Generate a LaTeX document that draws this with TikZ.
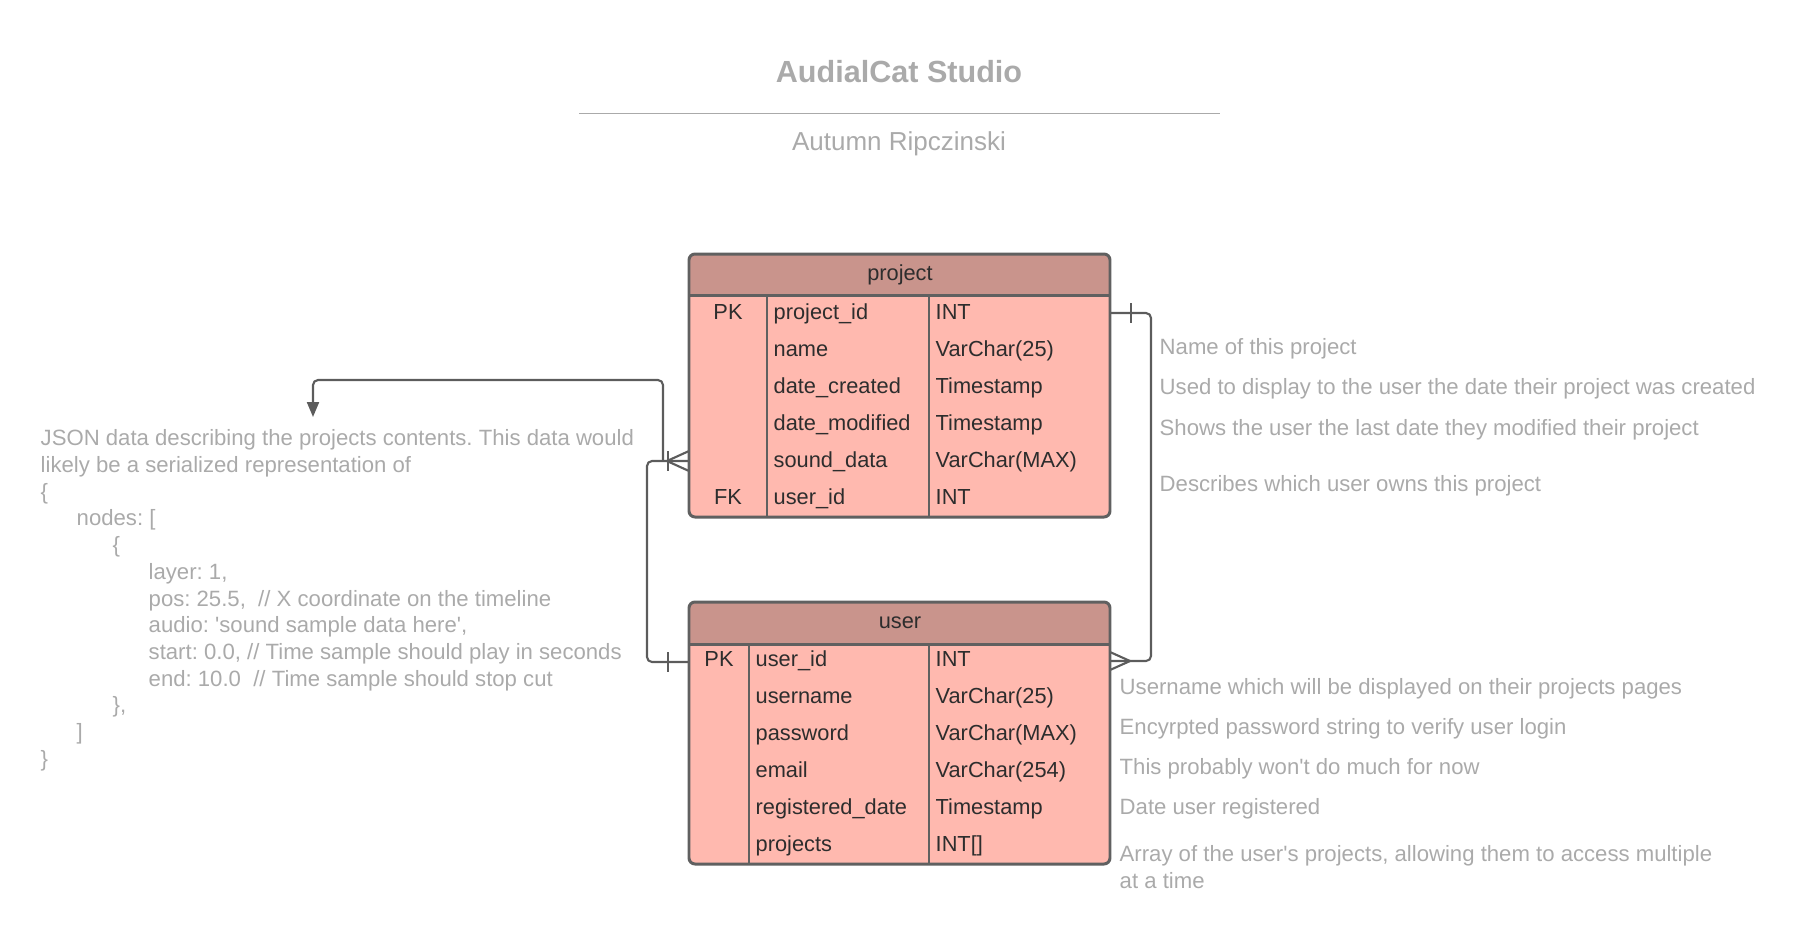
\documentclass[tikz,border=0pt]{standalone}
\usepackage{fontspec}
\setmainfont{Liberation Sans}
\frenchspacing
\usetikzlibrary{arrows.meta}

\definecolor{headfill}{RGB}{201,148,140}
\definecolor{rowfill}{RGB}{255,185,175}
\definecolor{framegray}{RGB}{96,96,96}
\definecolor{linkgray}{RGB}{92,92,92}
\definecolor{cellgray}{RGB}{45,45,45}
\definecolor{notegray}{RGB}{170,170,170}

\begin{document}
\begin{tikzpicture}[
    cell/.style={text=cellgray, font=\fontsize{6.2}{7.4}\selectfont, inner sep=0pt, anchor=base west},
    note/.style={text=notegray, font=\fontsize{6.3}{7.6}\selectfont, inner sep=0pt, anchor=base west},
    frame/.style={draw=framegray, line width=0.85pt},
    link/.style={draw=linkgray, line width=0.6pt, rounded corners=0.05cm},
    erend/.style={draw=linkgray, line width=0.6pt}
  ]
    \useasboundingbox (0,0) rectangle (18,-9.4);

    % title block
    \node[text=notegray, font=\bfseries\fontsize{8.7}{10}\selectfont, inner sep=0pt, anchor=base] (title) at (8.99,-0.82) {AudialCat Studio};
    \draw[notegray, line width=0.55pt] (5.79,-1.135) -- (12.20,-1.135);
    \node[text=notegray, font=\fontsize{7.4}{9}\selectfont, inner sep=0pt, anchor=base] (author) at (8.99,-1.50) {Autumn Ripczinski};

    % connector ends
    \coordinate (pid-e) at (11.10,-3.13);
    \coordinate (psd-w) at (6.89,-4.61);
    \coordinate (uid-w) at (6.89,-6.62);
    \coordinate (uid-e) at (11.10,-6.61);
    \coordinate (json-in) at (3.13,-4.17);

    % project -> user
    \draw[link] (pid-e) -- ++(0.41,0) |- (uid-e);
    \draw[erend] ([shift={(0.21,0.10)}]pid-e) -- ([shift={(0.21,-0.10)}]pid-e);
    \draw[erend] ([yshift=0.09cm]uid-e) -- ([xshift=0.20cm]uid-e) -- ([yshift=-0.09cm]uid-e);

    % user -> project
    \draw[link] (psd-w) -- ++(-0.42,0) |- (uid-w);
    \draw[erend] ([shift={(-0.21,0.10)}]psd-w) -- ([shift={(-0.21,-0.10)}]psd-w);
    \draw[erend] ([yshift=0.10cm]psd-w) -- ([xshift=-0.22cm]psd-w) -- ([yshift=-0.10cm]psd-w);
    \draw[erend] ([shift={(-0.21,0.10)}]uid-w) -- ([shift={(-0.21,-0.10)}]uid-w);

    % sound_data -> json note
    \draw[link, -{Triangle[length=0.15cm, width=0.12cm]}] ([xshift=-0.26cm]psd-w) -- ++(0,0.81) -| (json-in);

    % project table
    \fill[rowfill, rounded corners=0.06cm] (6.89,-2.54) rectangle (11.10,-5.17);
    \begin{scope}
      \clip[rounded corners=0.06cm] (6.89,-2.54) rectangle (11.10,-5.17);
      \fill[headfill] (6.89,-2.54) rectangle (11.10,-2.95);
    \end{scope}
    \draw[frame, rounded corners=0.06cm] (6.89,-2.54) rectangle (11.10,-5.17);
    \draw[frame] (6.89,-2.95) -- (11.10,-2.95) (7.67,-2.95) -- (7.67,-5.17) (9.29,-2.95) -- (9.29,-5.17);
    \node[cell, anchor=base] (project) at (9.00,-2.80) {project};
    \foreach \k/\f/\t [count=\i] in {PK/project\_id/INT, {}/name/VarChar(25), {}/date\_created/Timestamp,
        {}/date\_modified/Timestamp, {}/sound\_data/VarChar(MAX), FK/user\_id/INT} {
      \node[cell, anchor=base] (pk-\i) at (7.28,{-3.19-0.37*(\i-1)}) {\k};
      \node[cell] (pf-\i) at (7.73,{-3.19-0.37*(\i-1)}) {\f};
      \node[cell] (pt-\i) at (9.35,{-3.19-0.37*(\i-1)}) {\t};
    }

    % user table
    \fill[rowfill, rounded corners=0.06cm] (6.89,-6.02) rectangle (11.10,-8.64);
    \begin{scope}
      \clip[rounded corners=0.06cm] (6.89,-6.02) rectangle (11.10,-8.64);
      \fill[headfill] (6.89,-6.02) rectangle (11.10,-6.44);
    \end{scope}
    \draw[frame, rounded corners=0.06cm] (6.89,-6.02) rectangle (11.10,-8.64);
    \draw[frame] (6.89,-6.44) -- (11.10,-6.44) (7.49,-6.44) -- (7.49,-8.64) (9.29,-6.44) -- (9.29,-8.64);
    \node[cell, anchor=base] (user) at (9.00,-6.28) {user};
    \foreach \k/\f/\t [count=\i] in {PK/user\_id/INT, {}/username/VarChar(25), {}/password/VarChar(MAX),
        {}/email/VarChar(254), {}/registered\_date/Timestamp, {}/projects/INT[]} {
      \node[cell, anchor=base] (uk-\i) at (7.19,{-6.66-0.37*(\i-1)}) {\k};
      \node[cell] (uf-\i) at (7.55,{-6.66-0.37*(\i-1)}) {\f};
      \node[cell] (ut-\i) at (9.35,{-6.66-0.37*(\i-1)}) {\t};
    }

    % notes
    \node[note] (n-name) at (11.59,-3.54) {Name of this project};
    \node[note] (n-created) at (11.59,-3.94) {Used to display to the user the date their project was created};
    \node[note] (n-modified) at (11.59,-4.35) {Shows the user the last date they modified their project};
    \node[note] (n-owner) at (11.59,-4.91) {Describes which user owns this project};

    \node[note] (n-username) at (11.19,-6.94) {Username which will be displayed on their projects pages};
    \node[note] (n-password) at (11.19,-7.34) {Encyrpted password string to verify user login};
    \node[note] (n-email) at (11.19,-7.74) {This probably won\textquotesingle t do much for now};
    \node[note] (n-date) at (11.19,-8.14) {Date user registered};
    \node[note, anchor=north west, align=left] (n-projects) at (11.19,-8.45)
      {Array of the user\textquotesingle s projects, allowing them to access multiple\\at a time};

    \node[note, anchor=north west, align=left] (json) at (0.40,-4.29)
      {JSON data describing the projects contents. This data would\\
       likely be a serialized representation of\\
       \{\\
       \hspace*{0.36cm}nodes: [\\
       \hspace*{0.72cm}\{\\
       \hspace*{1.08cm}layer: 1,\\
       \hspace*{1.08cm}pos: 25.5,\ \ // X coordinate on the timeline\\
       \hspace*{1.08cm}audio: \textquotesingle sound sample data here\textquotesingle,\\
       \hspace*{1.08cm}start: 0.0, // Time sample should play in seconds\\
       \hspace*{1.08cm}end: 10.0\ \ // Time sample should stop cut\\
       \hspace*{0.72cm}\},\\
       \hspace*{0.36cm}]\\
       \}};
  \end{tikzpicture}
\end{document}
